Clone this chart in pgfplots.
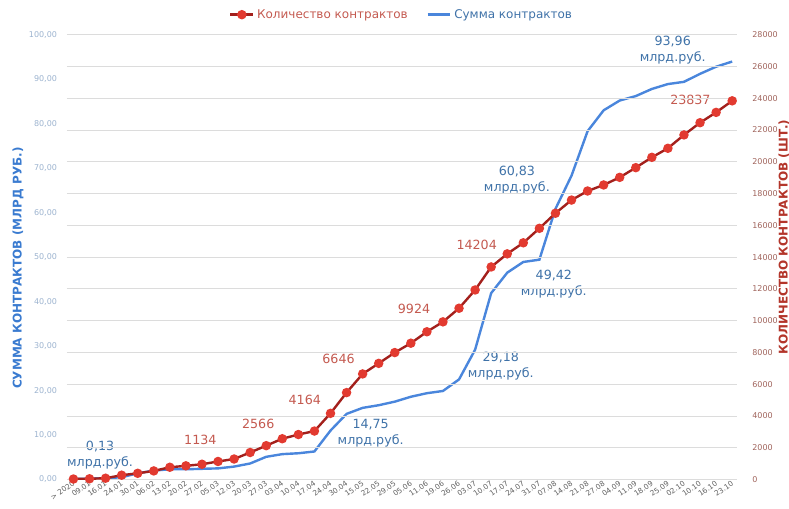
\documentclass[border=0pt]{standalone}
\usepackage{fontspec}
\setmainfont{DejaVu Sans}
\usepackage{pgfplots}
\usepackage{pgfplotstable}
\pgfplotsset{compat=1.18}
\definecolor{bline}{HTML}{4A86DC}
\definecolor{rline}{HTML}{A3201C}
\definecolor{rmark}{HTML}{E23A30}
\definecolor{rtext}{HTML}{C45A50}
\definecolor{btext}{HTML}{3F72A8}
\definecolor{lticks}{HTML}{9CB3CF}
\definecolor{rticks}{HTML}{A0645C}
\definecolor{xticks}{HTML}{606060}
\definecolor{gridc}{HTML}{DCDCDC}
\definecolor{blab}{HTML}{3A7BD0}
\definecolor{rlab}{HTML}{B3352A}

\pgfplotstableread{
x y
0 30
1 45
2 80
3 270
4 390
5 540
6 770
7 860
8 960
9 1134
10 1290
11 1700
12 2130
13 2566
14 2830
15 3050
16 4164
17 5470
18 6646
19 7310
20 7990
21 8580
22 9300
23 9924
24 10780
25 11930
26 13380
27 14204
28 14900
29 15810
30 16760
31 17590
32 18160
33 18540
34 19020
35 19630
36 20280
37 20850
38 21690
39 22460
40 23110
41 23837
}\countdata

\pgfplotstableread{
x y
0 0.13
1 0.2
2 0.3
3 0.5
4 1.4
5 2.0
6 2.3
7 2.3
8 2.4
9 2.5
10 2.9
11 3.6
12 5.1
13 5.7
14 5.9
15 6.3
16 11.0
17 14.75
18 16.1
19 16.7
20 17.5
21 18.6
22 19.4
23 19.9
24 22.5
25 29.18
26 41.9
27 46.5
28 48.9
29 49.42
30 60.83
31 68.3
32 78.3
33 83.0
34 85.2
35 86.2
36 87.8
37 88.9
38 89.4
39 91.2
40 92.8
41 93.96
}\sumdata

\begin{document}
\begin{tikzpicture}
\useasboundingbox (-50.25pt,-22.125pt) rectangle (541.5pt,359.625pt);
\pgfplotsset{
  common/.style={
    at={(0,0)}, anchor=south west,
    scale only axis, width=502.5pt, height=333.6pt,
    xmin=-0.4, xmax=41.3,
    axis line style={draw=none},
    major tick length=0pt,
    /pgf/number format/assume math mode=true,
  }
}
\begin{axis}[common,
  ymin=0, ymax=100,
  ytick={0,10,...,100},
  yticklabel style={font=\fontsize{6}{7}\selectfont, color=lticks, xshift=-4pt,
     /pgf/number format/fixed, /pgf/number format/fixed zerofill,
     /pgf/number format/precision=2, /pgf/number format/use comma},
  xtick={0,...,41},
  xticklabels={> 2020,09.01,16.01,24.01,30.01,06.02,13.02,20.02,27.02,05.03,12.03,20.03,27.03,03.04,10.04,17.04,24.04,30.04,15.05,22.05,29.05,05.06,11.06,19.06,26.06,03.07,10.07,17.07,24.07,31.07,07.08,14.08,21.08,27.08,04.09,11.09,18.09,25.09,02.10,10.10,16.10,23.10},
  xticklabel style={font=\fontsize{5.5}{6}\selectfont, color=xticks, rotate=35, anchor=east, inner sep=1pt, yshift=-2pt},
  ylabel={\bfseries СУММА КОНТРАКТОВ (МЛРД РУБ.)},
  ylabel style={font=\fontsize{9}{10}\selectfont, color=blab, at={(axis description cs:-0.073,0.475)}, anchor=center},
]
\addplot[bline, line width=1.8pt, no marks] table[x=x,y=y] {\sumdata};
\begin{scope}[font=\fontsize{9.5}{11}\selectfont, btext, align=center]
\node at (axis cs:1.66,5.5) {0,13\\[1pt]млрд.руб.};
\node at (axis cs:18.5,10.5) {14,75\\[1pt]млрд.руб.};
\node at (axis cs:26.6,25.5) {29,18\\[1pt]млрд.руб.};
\node at (axis cs:27.6,67.3) {60,83\\[1pt]млрд.руб.};
\node at (axis cs:29.9,44.0) {49,42\\[1pt]млрд.руб.};
\node at (axis cs:37.3,96.6) {93,96\\[1pt]млрд.руб.};
\end{scope}
\begin{scope}[font=\fontsize{9.5}{11}\selectfont, rtext]
\node at (axis cs:7.9,8.9) {1134};
\node at (axis cs:11.5,12.5) {2566};
\node at (axis cs:14.4,17.9) {4164};
\node at (axis cs:16.5,27.1) {6646};
\node at (axis cs:21.2,38.3) {9924};
\node at (axis cs:25.1,52.7) {14204};
\node at (axis cs:38.4,85.3) {23837};
\end{scope}
\end{axis}
\begin{axis}[common,
  ymin=0, ymax=28000,
  ytick={0,2000,...,28000},
  scaled y ticks=false,
  axis y line*=right,
  axis x line=none,
  ymajorgrids, grid style={gridc, line width=0.6pt},
  yticklabel style={font=\fontsize{6}{7}\selectfont, color=rticks, xshift=8pt,
     /pgf/number format/fixed, /pgf/number format/1000 sep={}},
  ylabel={\bfseries КОЛИЧЕСТВО КОНТРАКТОВ (ШТ.)},
  ylabel style={font=\fontsize{9}{10}\selectfont, color=rlab, at={(axis description cs:1.07,0.545)}, anchor=center, rotate=0},
  legend style={at={(0.5,1.045)}, anchor=center, draw=none, fill=none, legend columns=2,
     font=\fontsize{9}{10}\selectfont, /tikz/every even column/.append style={column sep=12pt}},
  legend cell align=left,
]
\addplot[rline, line width=1.8pt, mark=*, mark size=2.6pt, mark options={draw=rmark, fill=rmark}] table[x=x,y=y] {\countdata};
\addlegendentry{\textcolor{rtext}{Количество контрактов}}
\addlegendimage{bline, line width=1.8pt}
\addlegendentry{\textcolor{btext}{Сумма контрактов}}
\end{axis}
\end{tikzpicture}
\end{document}
